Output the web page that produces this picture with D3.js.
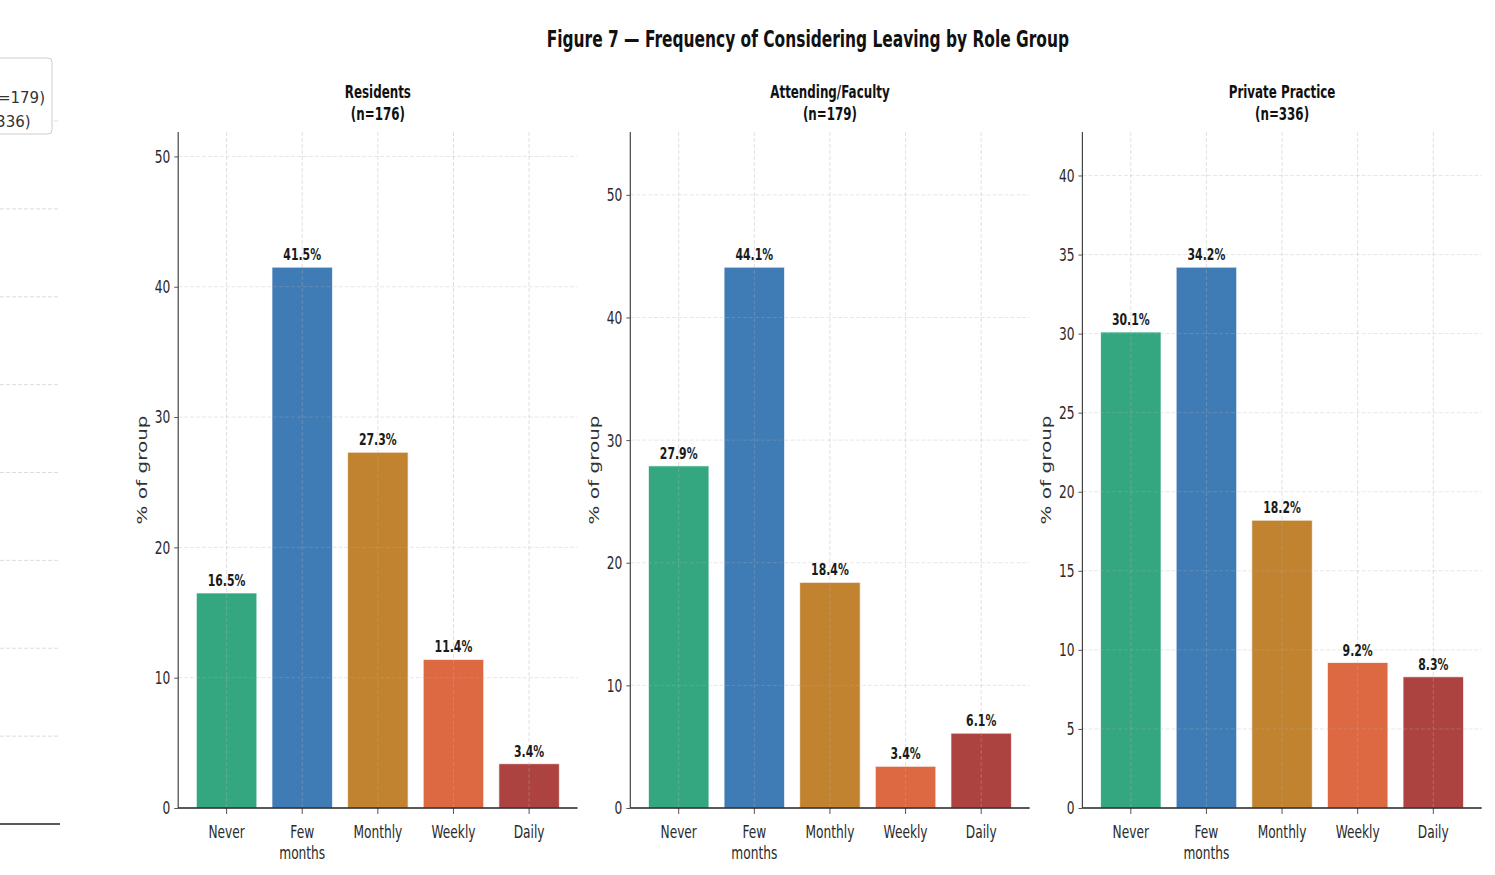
<!DOCTYPE html>
<html>
<head>
<meta charset="utf-8">
<script src="https://cdn.jsdelivr.net/npm/d3@7"></script>
<style>
  html, body { margin: 0; padding: 0; background: #fff; overflow: hidden; }
  svg { display: block; }
  text { font-family: "DejaVu Sans", sans-serif; }
</style>
</head>
<body>
<svg id="chart" width="1495" height="875"></svg>
<script>
// ---------------- DATA ----------------
const categories = ["Never", "Few\nmonths", "Monthly", "Weekly", "Daily"];
const groupNames = ["Residents", "Attending/Faculty", "Private Practice"];
const groupN = [176, 179, 336];
const residentsPct = [16.5, 41.5, 27.3, 11.4, 3.4];
const attendingPct = [27.9, 44.1, 18.4, 3.4, 6.1];
const privatePct = [30.1, 34.2, 18.2, 9.2, 8.3];
const residentsTicks = [0, 10, 20, 30, 40, 50];
const attendingTicks = [0, 10, 20, 30, 40, 50];
const privateTicks = [0, 5, 10, 15, 20, 25, 30, 35, 40];
const barColors = ["#34a781", "#3f7bb5", "#c1832f", "#dd6943", "#ad4341"];
const legendLabels = ["Residents (n=176)", "Attending/Faculty (n=179)", "Private Practice (n=336)"];
const fragmentTicks = [1, 2, 3, 4, 5, 6, 7, 8];
const titleText = "Figure 7 \u2014 Frequency of Considering Leaving by Role Group";

const panelValues = [residentsPct, attendingPct, privatePct];
const panelTicks = [residentsTicks, attendingTicks, privateTicks];

// ---------------- LAYOUT ----------------
const K = 0.66;                 // horizontal compression of the main figure
const svg = d3.select("#chart");

// ---- left fragment (cut-off neighbouring panel) ----
const frag = svg.append("g");
const fragY = d3.scaleLinear().domain([0, 8]).range([824, 121]);
frag.selectAll("line.fg").data(fragmentTicks).enter().append("line")
  .attr("x1", 0).attr("x2", 58)
  .attr("y1", d => fragY(d)).attr("y2", d => fragY(d))
  .attr("stroke", "#d9d9d9").attr("stroke-width", 0.9)
  .attr("stroke-dasharray", "4,2");
frag.append("line").attr("x1", 0).attr("x2", 60)
  .attr("y1", fragY(0)).attr("y2", fragY(0))
  .attr("stroke", "#222").attr("stroke-width", 1.3);
frag.append("rect").attr("x", -220).attr("y", 58).attr("width", 272).attr("height", 76)
  .attr("rx", 4).attr("fill", "#fff").attr("fill-opacity", 0.9)
  .attr("stroke", "#cccccc").attr("stroke-width", 1);
const legTexts = frag.selectAll("text.leg").data(legendLabels).enter().append("text")
  .attr("y", (d, i) => 79 + i * 24)
  .attr("font-size", 15).attr("fill", "#333")
  .text(d => d);
const w2 = legTexts.nodes()[1].getComputedTextLength();
legTexts.attr("x", 45 - w2);

// ---- main compressed figure ----
const g = svg.append("g").attr("transform", `scale(${K},1)`);

const plotTop = 132, plotBottom = 808;
const panelW = 605, panelGap = 80, left0 = 270;

g.append("text")
  .attr("x", 1224).attr("y", 47)
  .attr("text-anchor", "middle")
  .attr("font-size", 23.4).attr("font-weight", "bold").attr("fill", "#111")
  .text(titleText);

panelValues.forEach((vals, p) => {
  const x0 = left0 + p * (panelW + panelGap);
  const pg = g.append("g").attr("transform", `translate(${x0},0)`);
  const x = d3.scaleBand().domain(categories).range([0, panelW])
    .paddingInner(0.2).paddingOuter(0.24);
  const ymax = d3.max(vals) * 1.25;
  const y = d3.scaleLinear().domain([0, ymax]).range([plotBottom, plotTop]);

  // bars
  pg.selectAll("rect.bar").data(vals).enter().append("rect")
    .attr("x", (d, i) => x(categories[i]))
    .attr("width", x.bandwidth())
    .attr("y", d => y(d))
    .attr("height", d => y(0) - y(d))
    .attr("fill", (d, i) => barColors[i])
    .attr("stroke", "#ffffff").attr("stroke-opacity", 0.7)
    .attr("stroke-width", 1).attr("vector-effect", "non-scaling-stroke");

  // grid (drawn above bars, faint)
  pg.selectAll("line.hg").data(panelTicks[p].filter(t => t > 0)).enter().append("line")
    .attr("x1", 0).attr("x2", panelW)
    .attr("y1", d => y(d)).attr("y2", d => y(d))
    .attr("stroke", "#b0b0b0").attr("stroke-opacity", 0.42)
    .attr("stroke-width", 0.9).attr("stroke-dasharray", "6,3");
  pg.selectAll("line.vg").data(categories).enter().append("line")
    .attr("x1", d => x(d) + x.bandwidth() / 2).attr("x2", d => x(d) + x.bandwidth() / 2)
    .attr("y1", plotTop).attr("y2", plotBottom)
    .attr("stroke", "#b0b0b0").attr("stroke-opacity", 0.42)
    .attr("stroke-width", 0.9).attr("vector-effect", "non-scaling-stroke")
    .attr("stroke-dasharray", "4,2");

  // value labels
  pg.selectAll("text.val").data(vals).enter().append("text")
    .attr("x", (d, i) => x(categories[i]) + x.bandwidth() / 2)
    .attr("y", d => y(d) - 7)
    .attr("text-anchor", "middle")
    .attr("font-size", 16.5).attr("font-weight", "bold").attr("fill", "#1a1a1a")
    .text(d => d.toFixed(1) + "%");

  // y axis
  const yAxis = pg.append("g").call(d3.axisLeft(y).tickValues(panelTicks[p]).tickSize(6).tickPadding(6).tickFormat(d3.format("d")));
  yAxis.select(".domain").remove();
  yAxis.selectAll(".tick line").attr("stroke", "#333").attr("stroke-width", 1);
  yAxis.selectAll(".tick text").attr("font-size", 18.5).attr("fill", "#2a2a2a")
    .attr("font-family", "DejaVu Sans");
  pg.append("line").attr("x1", 0).attr("x2", 0).attr("y1", plotTop).attr("y2", plotBottom)
    .attr("stroke", "#444").attr("stroke-width", 1.2).attr("vector-effect", "non-scaling-stroke");

  // x axis
  const xAxis = pg.append("g").attr("transform", `translate(0,${plotBottom})`)
    .call(d3.axisBottom(x).tickSize(6).tickPadding(5).tickFormat(""));
  xAxis.select(".domain").remove();
  xAxis.selectAll(".tick line").attr("stroke", "#555").attr("stroke-width", 1)
    .attr("vector-effect", "non-scaling-stroke");
  pg.append("line").attr("x1", 0).attr("x2", panelW).attr("y1", plotBottom).attr("y2", plotBottom)
    .attr("stroke", "#222").attr("stroke-width", 1.5);
  const xl = pg.selectAll("text.xl").data(categories).enter().append("text")
    .attr("text-anchor", "middle").attr("font-size", 18.5).attr("fill", "#2a2a2a")
    .attr("transform", d => `translate(${x(d) + x.bandwidth() / 2},837.5)`);
  xl.each(function (d) {
    const t = d3.select(this);
    d.split("\n").forEach((line, i) => {
      t.append("tspan").attr("x", 0).attr("y", i * 22).text(line);
    });
  });

  // y label
  pg.append("text")
    .attr("transform", `translate(-47,${(plotTop + plotBottom) / 2}) rotate(-90)`)
    .attr("text-anchor", "middle").attr("font-size", 20).attr("fill", "#333")
    .text("% of group");

  // panel title
  const tt = pg.append("text").attr("text-anchor", "middle")
    .attr("font-size", 18).attr("font-weight", "bold").attr("fill", "#111");
  tt.append("tspan").attr("x", panelW / 2).attr("y", 98).text(groupNames[p]);
  tt.append("tspan").attr("x", panelW / 2).attr("y", 120).text(`(n=${groupN[p]})`);
});
</script>
</body>
</html>
